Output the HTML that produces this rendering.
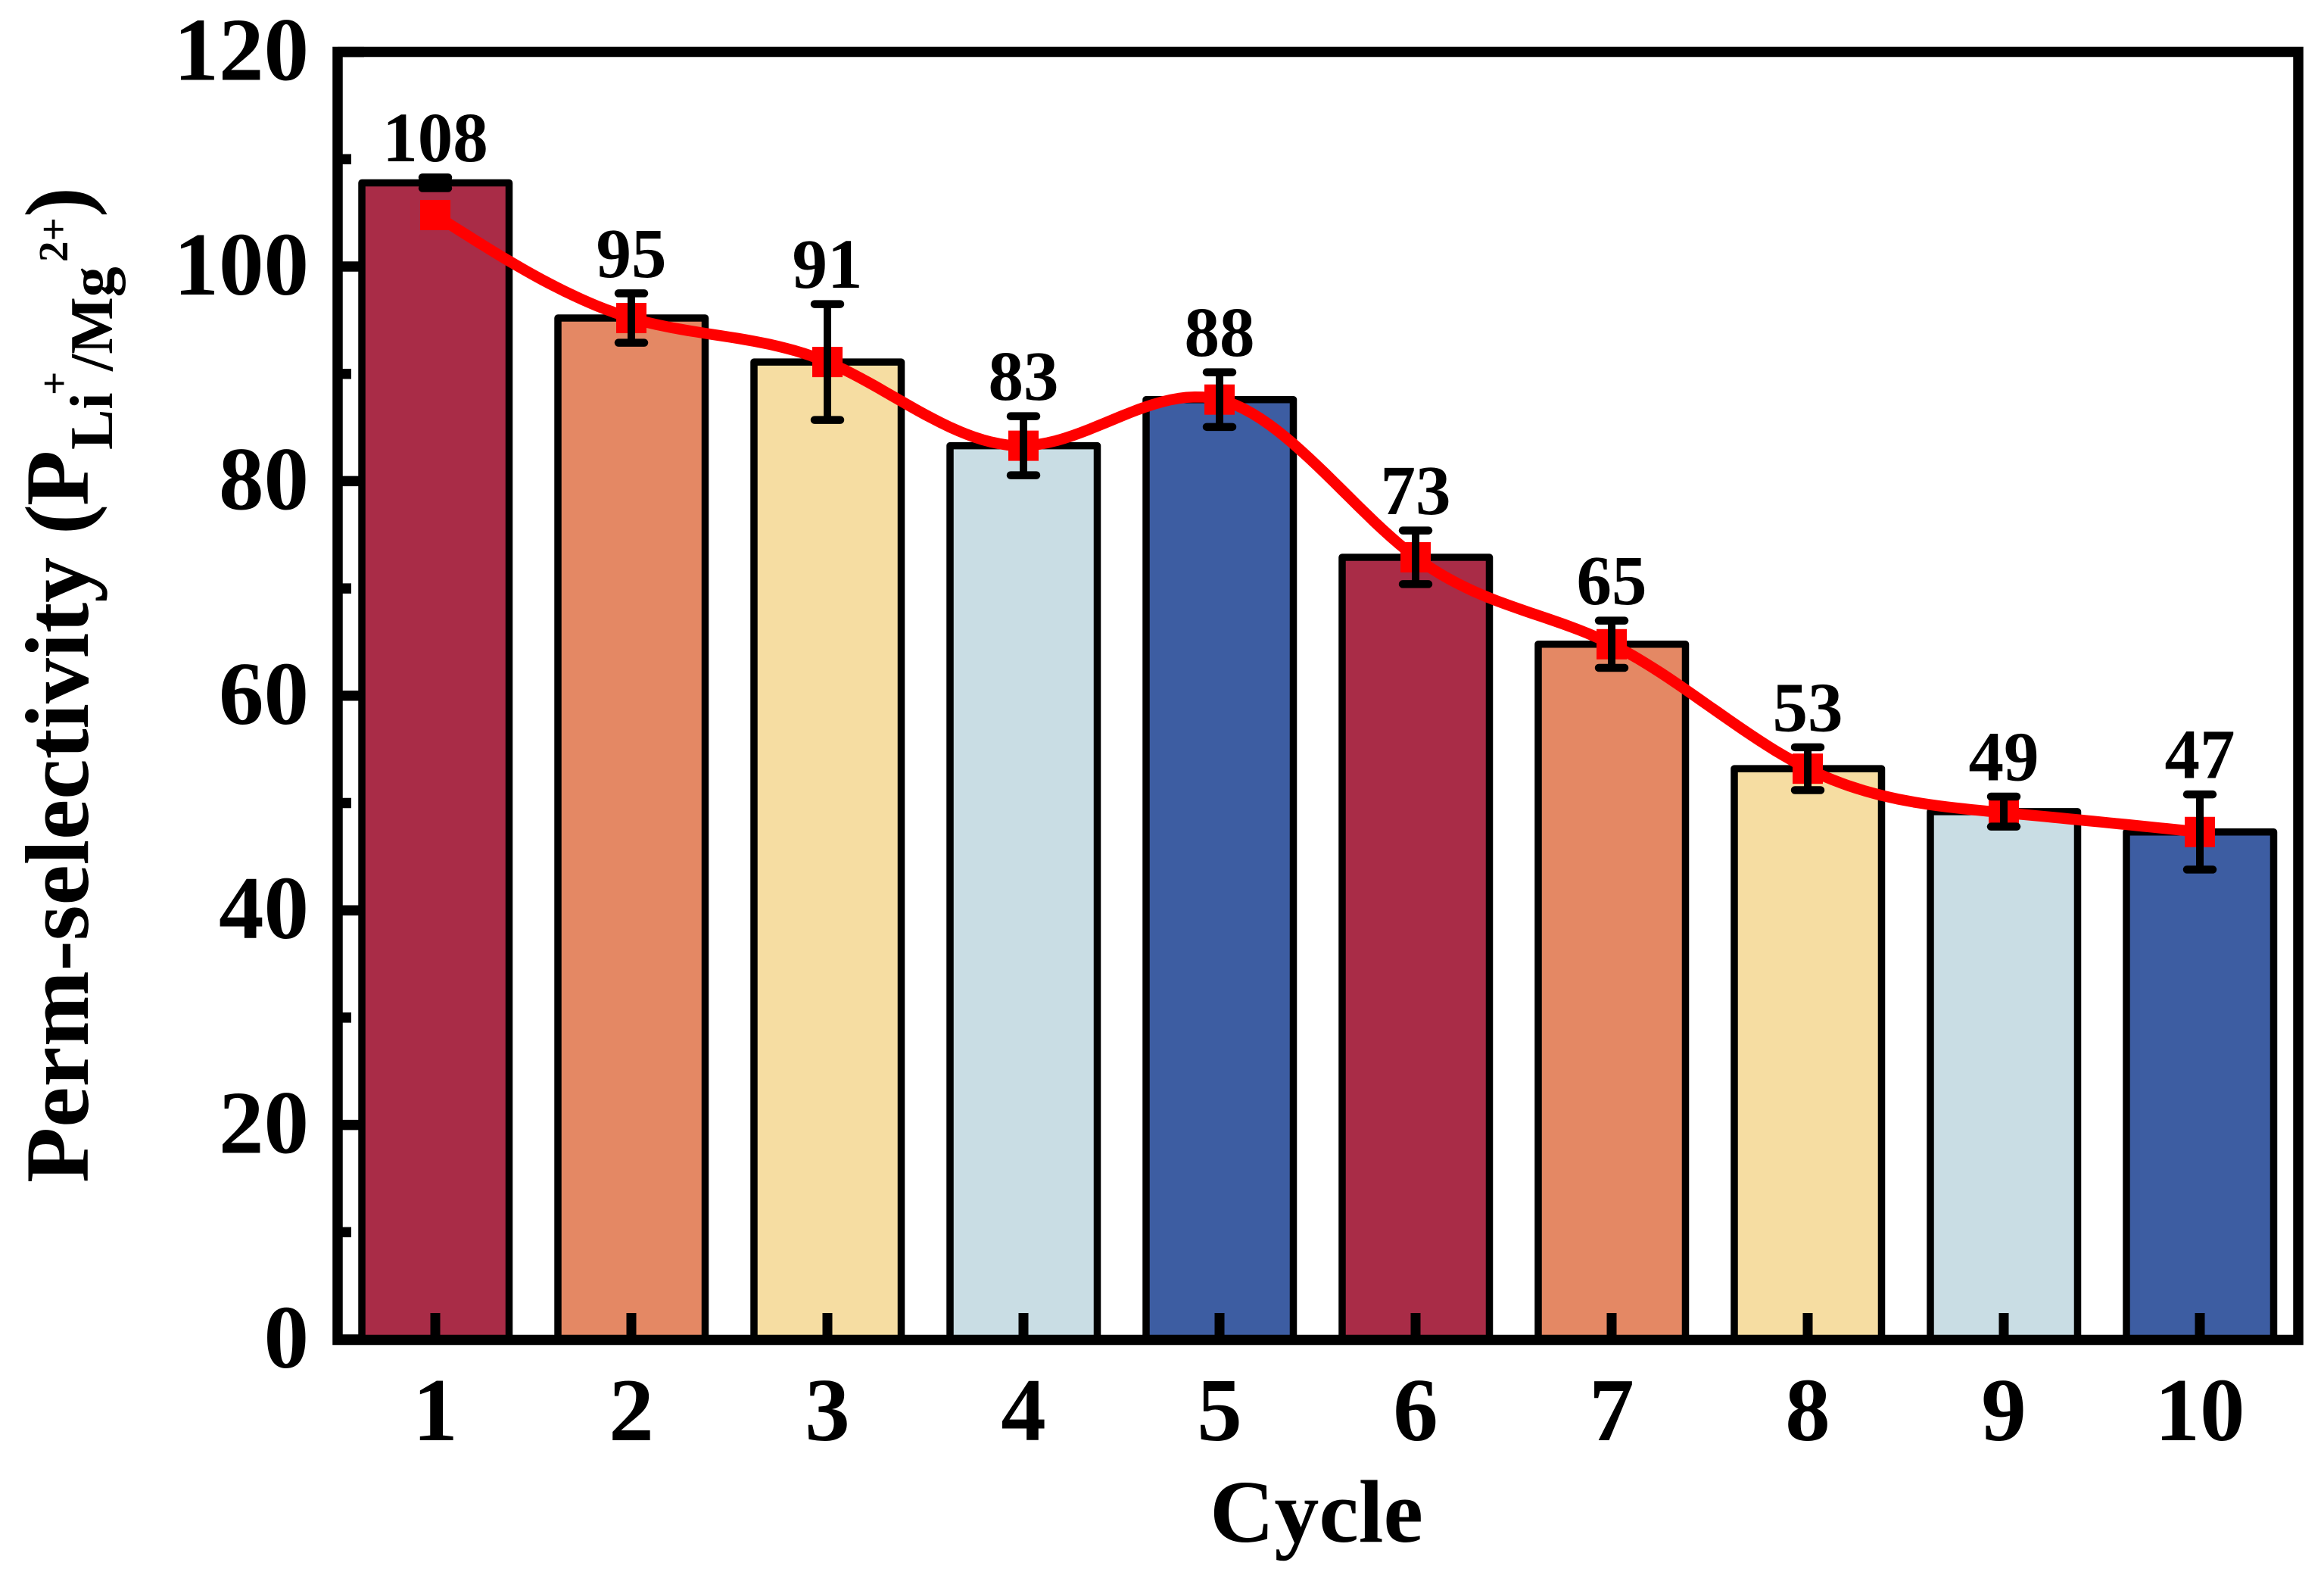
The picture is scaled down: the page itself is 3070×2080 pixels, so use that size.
<!DOCTYPE html>
<html lang="en">
<head>
<meta charset="utf-8">
<title>Perm-selectivity by cycle</title>
<style>
html,body{margin:0;padding:0;background:#fff;width:3070px;height:2080px;overflow:hidden}
svg{display:block}
text{font-family:"Liberation Serif",serif;font-weight:700;fill:#000}
</style>
</head>
<body>
<svg id="chart" xmlns="http://www.w3.org/2000/svg" width="3070" height="2080" viewBox="0 0 3070 2080">
  <rect x="0" y="0" width="3070" height="2080" fill="#ffffff"/>
  <g id="bars"></g>
  <g id="ticks"></g>
  <g id="line"></g>
  <g id="errors"></g>
  <g id="labels"></g>
  <rect x="446" y="68.5" width="2590" height="1701" fill="none" stroke="#000" stroke-width="13.5"/>
  <g id="ticklabels"></g>
  <text x="1739" y="2036" font-size="118" text-anchor="middle">Cycle</text>
  <g>
    <text transform="translate(116,1562) rotate(-90)" font-size="120">Perm-selectivity (</text>
    <text transform="translate(116,668) rotate(-90)" font-size="120">P</text>
    <text transform="translate(148,594) rotate(-90)" font-size="80">Li</text>
    <text transform="translate(90,522) rotate(-90)" font-size="55">+</text>
    <text transform="translate(148,490) rotate(-90)" font-size="80">/Mg</text>
    <text transform="translate(89,346) rotate(-90)" font-size="55">2+</text>
    <text transform="translate(116,287) rotate(-90)" font-size="120">)</text>
  </g>
</svg>
<script>
const cycles = ['1','2','3','4','5','6','7','8','9','10'];
const barValues = [107.8,95.2,91.1,83.3,87.6,72.9,64.8,53.2,49.2,47.3];
const lineValues = [104.8,95.2,91.1,83.3,87.6,72.9,64.8,53.2,49.1,47.3];
const errorValues = [0.5,2.3,5.4,2.75,2.55,2.5,2.2,2.0,1.4,3.5];
const valueLabels = ['108','95','91','83','88','73','65','53','49','47'];
const yTickLabels = ['0','20','40','60','80','100','120'];
const yTickValues = [0,20,40,60,80,100,120];
const yMinorValues = [10,30,50,70,90,110];
const barColors = ['#a92c47','#e48864','#f6dda2','#c9dde4','#3d5da2'];

const NS = 'http://www.w3.org/2000/svg';
function xScale(i){ return 575 + 259 * i; }
function yScale(v){ return 1769 - 14.17 * v; }
function mk(parent, tag, attrs){
  const el = document.createElementNS(NS, tag);
  for (const k in attrs) el.setAttribute(k, attrs[k]);
  document.getElementById(parent).appendChild(el);
  return el;
}

// Bars
barValues.forEach(function(v, i){
  const x = xScale(i);
  const el = mk('bars', 'rect', {x: x - 97, y: yScale(v), width: 194.5, height: yScale(0) - yScale(v),
    fill: barColors[i % barColors.length], stroke: '#000', 'stroke-width': 9.5, 'stroke-linejoin': 'round'});
  
  
});

// Ticks
cycles.forEach(function(c, i){
  const el = mk('ticks', 'line', {x1: xScale(i), x2: xScale(i), y1: yScale(0), y2: 1734, stroke: '#000', 'stroke-width': 13});
  
  
});
yTickValues.forEach(function(v){
  const el = mk('ticks', 'line', {x1: 446, x2: 481, y1: yScale(v), y2: yScale(v), stroke: '#000', 'stroke-width': 13.5});
  
  
});
yMinorValues.forEach(function(v){
  const el = mk('ticks', 'line', {x1: 446, x2: 464, y1: yScale(v), y2: yScale(v), stroke: '#000', 'stroke-width': 13.5});
  
  
});

// Natural cubic spline through the line series
function splinePath(vals){
  const n = vals.length;
  const a = new Array(n).fill(0), b = new Array(n).fill(0), m = new Array(n).fill(0);
  for (let i = 1; i < n - 1; i++){
    const d = 6 * (vals[i + 1] - 2 * vals[i] + vals[i - 1]);
    const w = 4 - a[i - 1];
    a[i] = 1 / w;
    b[i] = (d - b[i - 1]) / w;
  }
  for (let i = n - 2; i > 0; i--) m[i] = b[i] - a[i] * m[i + 1];
  let d = 'M' + xScale(0) + ' ' + yScale(vals[0]);
  for (let i = 0; i < n - 1; i++){
    for (let s = 1; s <= 24; s++){
      const t = s / 24, u = 1 - t;
      const v = u * vals[i] + t * vals[i + 1] + ((u * u * u - u) * m[i] + (t * t * t - t) * m[i + 1]) / 6;
      d += ' L' + xScale(i + t).toFixed(1) + ' ' + yScale(v).toFixed(1);
    }
  }
  return d;
}
const trend = mk('line', 'path', {d: splinePath(lineValues), fill: 'none', stroke: '#ff0000', 'stroke-width': 14.5, 'stroke-linejoin': 'round'});


lineValues.forEach(function(v, i){
  const el = mk('line', 'rect', {x: xScale(i) - 20, y: yScale(v) - 20, width: 40, height: 40, fill: '#ff0000'});
  
  
});

// Error bars
barValues.forEach(function(v, i){
  const x = xScale(i), top = yScale(v + errorValues[i]), bot = yScale(v - errorValues[i]);
  const stem = mk('errors', 'line', {x1: x, x2: x, y1: top, y2: bot, stroke: '#000', 'stroke-width': 10});
  
  
  const capTop = mk('errors', 'line', {x1: x - 17, x2: x + 17, y1: top, y2: top, stroke: '#000', 'stroke-width': 10.5, 'stroke-linecap': 'round'});
  
  
  const capBot = mk('errors', 'line', {x1: x - 17, x2: x + 17, y1: bot, y2: bot, stroke: '#000', 'stroke-width': 10.5, 'stroke-linecap': 'round'});
  
  
});

// Value labels
valueLabels.forEach(function(s, i){
  const el = mk('labels', 'text', {x: xScale(i), y: yScale(barValues[i] + errorValues[i]) - 21.5, 'font-size': 93, 'text-anchor': 'middle'});
  el.textContent = s;
  
  
});

// Tick labels
yTickLabels.forEach(function(s, i){
  const el = mk('ticklabels', 'text', {x: 408, y: yScale(yTickValues[i]) + 37, 'font-size': 119, 'text-anchor': 'end'});
  el.textContent = s;
  
  
});
cycles.forEach(function(s, i){
  const el = mk('ticklabels', 'text', {x: xScale(i), y: 1902, 'font-size': 119, 'text-anchor': 'middle'});
  el.textContent = s;
  
  
});
</script>
</body>
</html>
